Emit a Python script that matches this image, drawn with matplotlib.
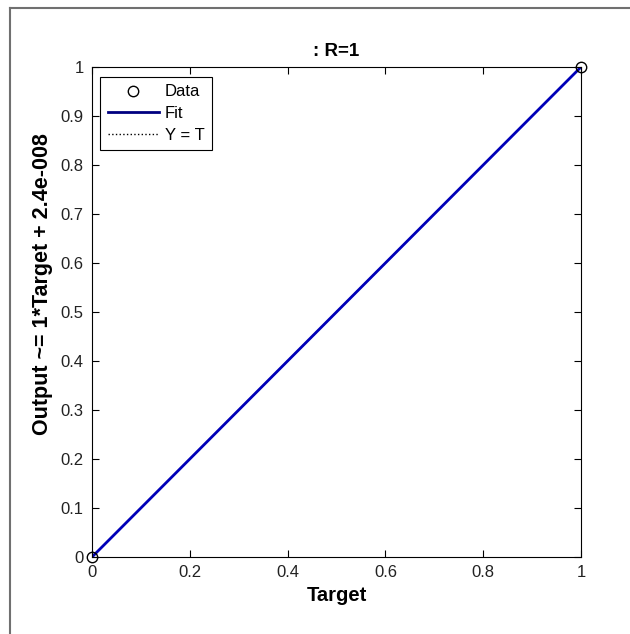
import matplotlib
matplotlib.use("Agg")
import matplotlib.pyplot as plt
from matplotlib.lines import Line2D

plt.rcParams['font.family'] = ['Liberation Sans', 'DejaVu Sans']

# data
targets = [0, 1]
outputs = [0, 1]
fit_slope = 1.0
fit_intercept = 2.4e-8
xticks = [0, 0.2, 0.4, 0.6, 0.8, 1]
yticks = [0, 0.1, 0.2, 0.3, 0.4, 0.5, 0.6, 0.7, 0.8, 0.9, 1]
xtick_labels = ['0', '0.2', '0.4', '0.6', '0.8', '1']
ytick_labels = ['0', '0.1', '0.2', '0.3', '0.4', '0.5', '0.6', '0.7', '0.8', '0.9', '1']
title = ': R=1'
xlabel = 'Target'
ylabel = 'Output ~= 1*Target + 2.4e-008'

fig = plt.figure(figsize=(6.30, 6.34), dpi=100)
# outer frame lines (top, left)
fig.add_artist(Line2D([10/630, 1], [1-8/634, 1-8/634], color='#707070', lw=1.5, transform=fig.transFigure))
fig.add_artist(Line2D([10/630, 10/630], [0, 1-8/634], color='#707070', lw=1.5, transform=fig.transFigure))

ax = fig.add_axes([92/630, 1-557/634, (581-92)/630, (557-67)/634])

xs = [0, 1]
fit_y = [fit_slope*x + fit_intercept for x in xs]
ax.plot(xs, xs, ':', color='black', lw=1, label='Y = T')
ax.plot(xs, fit_y, '-', color='#0000b8', lw=2, label='Fit')
ax.plot(targets, outputs, 'o', mfc='none', mec='black', ms=7.5, mew=1, label='Data', clip_on=False)

ax.set_xlim(0, 1)
ax.set_ylim(0, 1)
ax.set_xticks(xticks)
ax.set_xticklabels(xtick_labels)
ax.set_yticks(yticks)
ax.set_yticklabels(ytick_labels)
ax.tick_params(direction='in', top=True, right=True, length=5, labelsize=12, pad=6, width=0.8,
               labelcolor='#222222')
for s in ax.spines.values():
    s.set_linewidth(0.8)

ax.set_title(title, fontsize=13.5, fontweight='bold', pad=8)
ax.set_xlabel(xlabel, fontsize=14.5, fontweight='bold', labelpad=4)
ax.set_ylabel(ylabel, fontsize=15.5, fontweight='bold')
ax.yaxis.set_label_coords(-0.080, 0.557)

handles = [
    Line2D([], [], ls='none', marker='o', mfc='none', mec='black', ms=7.5),
    Line2D([], [], ls='-', color='#000080', lw=2),
    Line2D([], [], ls=':', color='black', lw=1),
]
leg = ax.legend(handles, ['Data', 'Fit', 'Y = T'], loc='upper left', bbox_to_anchor=(8/489, 1-10/490),
                fontsize=12, frameon=True, fancybox=False, edgecolor='black', framealpha=1,
                handlelength=3.1, handletextpad=0.35, borderpad=0.45, labelspacing=0.4, borderaxespad=0)
leg.get_frame().set_linewidth(0.8)

fig.savefig('out.png', dpi=100)
